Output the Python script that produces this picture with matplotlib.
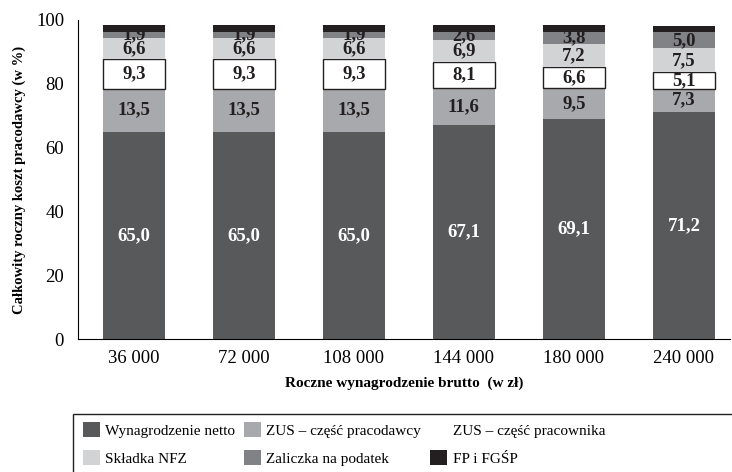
import matplotlib.pyplot as plt
from matplotlib.patches import Patch, Rectangle

# dane (udzial w calkowitym koszcie pracodawcy, %)
kategorie = ["36 000", "72 000", "108 000", "144 000", "180 000", "240 000"]
netto = [65.0, 65.0, 65.0, 67.1, 69.1, 71.2]
zus_pracodawcy = [13.5, 13.5, 13.5, 11.6, 9.5, 7.3]
zus_pracownika = [9.3, 9.3, 9.3, 8.1, 6.6, 5.1]
nfz = [6.6, 6.6, 6.6, 6.9, 7.2, 7.5]
zaliczka = [1.9, 1.9, 1.9, 2.6, 3.8, 5.0]
fp_fgsp = [2.1, 2.1, 2.1, 2.1, 2.1, 2.1]

nazwy = ["Wynagrodzenie netto", "ZUS – część pracodawcy", "ZUS – część pracownika",
         "Składka NFZ", "Zaliczka na podatek", "FP i FGŚP"]
kolory = ["#58595b", "#a7a9ac", "#ffffff", "#d1d3d4", "#808285", "#231f20"]

plt.rcParams['font.family'] = ['Liberation Serif', 'DejaVu Serif']

fig = plt.figure(figsize=(7.32, 4.72), dpi=100)
ax = fig.add_axes([78 / 732, 1 - 339 / 472, 652 / 732, 319 / 472])

serie = [netto, zus_pracodawcy, zus_pracownika, nfz, zaliczka, fp_fgsp]
x = list(range(len(kategorie)))
dol = [0.0] * len(kategorie)
szer = 0.56

for i, (vals, kolor) in enumerate(zip(serie, kolory)):
    edge = "#231f20" if i == 2 else "none"
    z = 4 if i == 5 else 2
    ax.bar(x, vals, szer, bottom=dol, color=kolor, edgecolor=edge,
           linewidth=1.0, zorder=z)
    if i < 5:
        for j, v in enumerate(vals):
            txt = f"{v:.1f}".replace(".", ",")
            c = "white" if i == 0 else "#231f20"
            ax.text(j, dol[j] + v / 2, txt, ha="center", va="center",
                    color=c, fontsize=13.5, fontweight="bold", zorder=3)
    dol = [d + v for d, v in zip(dol, vals)]

ax.set_xlim(-0.51, 5.42)
ax.set_ylim(0, 100)
ax.set_xticks(x)
ax.set_xticklabels(kategorie)
ax.set_yticks([0, 20, 40, 60, 80, 100])
ax.tick_params(axis="both", length=0, labelsize=13.5)
ax.tick_params(axis="y", pad=10)
ax.tick_params(axis="x", pad=8)
ax.spines["top"].set_visible(False)
ax.spines["right"].set_visible(False)
ax.set_xlabel("Roczne wynagrodzenie brutto  (w zł)", fontsize=11,
              fontweight="bold", labelpad=7)
ax.set_ylabel("Całkowity roczny koszt pracodawcy (w %)", fontsize=10.5,
              fontweight="bold", labelpad=7)

# legenda w ramce, ulozona wierszami
kolejnosc = [0, 3, 1, 4, 2, 5]
uchwyty = [Patch(facecolor=kolory[k], edgecolor="none", label=nazwy[k]) for k in kolejnosc]
fig.patches.append(Rectangle((73 / 732, -0.05), 0.95, 1 - 414 / 472 + 0.05,
                             transform=fig.transFigure, fill=False,
                             edgecolor="#231f20", linewidth=1.0))
fig.legend(handles=uchwyty, ncol=3, loc="upper left",
           bbox_to_anchor=(83 / 732, 1 - 422 / 472), frameon=False,
           fontsize=11, handlelength=1.1, handleheight=1.15,
           handletextpad=0.35, columnspacing=0.6, labelspacing=0.8,
           borderaxespad=0, borderpad=0)

fig.savefig("out.png", dpi=100)
